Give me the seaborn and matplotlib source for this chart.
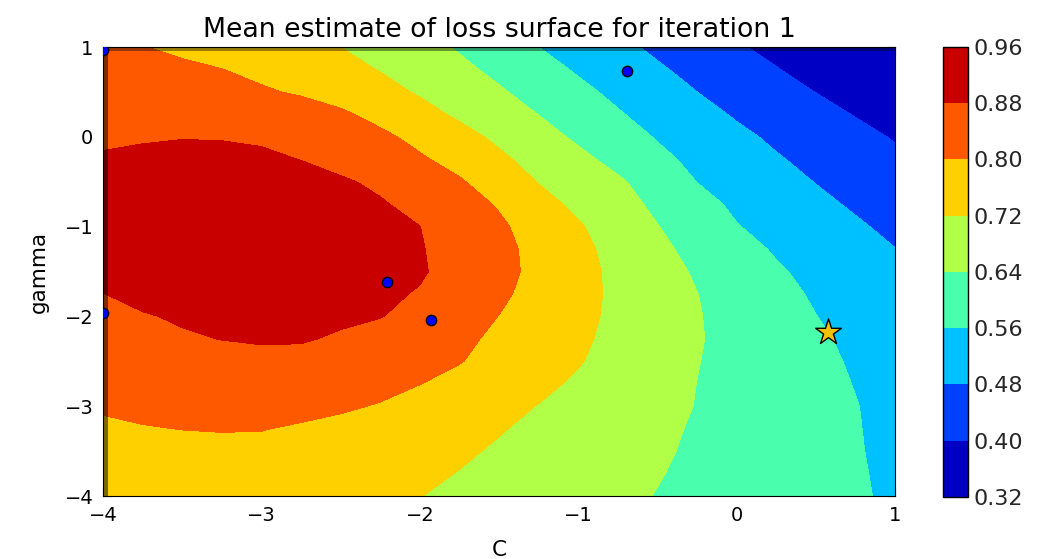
import numpy as np
import matplotlib
matplotlib.use("Agg")
import matplotlib.pyplot as plt
import seaborn as sns

# ---- data ----
C_values = [-4.0, -3.75, -3.5, -3.25, -3.0, -2.75, -2.5, -2.25, -2.0, -1.75, -1.5,
            -1.25, -1.0, -0.75, -0.5, -0.25, 0.0, 0.25, 0.5, 0.75, 1.0]
gamma_values = [1.0, 0.75, 0.5, 0.25, 0.0, -0.25, -0.5, -0.75, -1.0, -1.25, -1.5,
                -1.75, -2.0, -2.25, -2.5, -2.75, -3.0, -3.25, -3.5, -3.75, -4.0]

# mean loss estimate, one row per gamma value (C from -4 to 1)
loss_g_p1_00 = [0.820, 0.802, 0.786, 0.769, 0.753, 0.736, 0.720, 0.691, 0.663, 0.633, 0.596, 0.560, 0.529, 0.498, 0.466, 0.436, 0.405, 0.387, 0.371, 0.356, 0.340]
loss_g_p0_75 = [0.835, 0.824, 0.813, 0.801, 0.783, 0.762, 0.740, 0.717, 0.687, 0.656, 0.623, 0.587, 0.552, 0.521, 0.489, 0.459, 0.431, 0.402, 0.384, 0.366, 0.349]
loss_g_p0_50 = [0.850, 0.841, 0.831, 0.820, 0.808, 0.792, 0.768, 0.742, 0.713, 0.681, 0.648, 0.613, 0.577, 0.544, 0.512, 0.480, 0.453, 0.426, 0.399, 0.380, 0.360]
loss_g_p0_25 = [0.861, 0.863, 0.864, 0.859, 0.850, 0.834, 0.812, 0.778, 0.743, 0.709, 0.674, 0.639, 0.602, 0.566, 0.534, 0.503, 0.473, 0.448, 0.422, 0.397, 0.380]
loss_g_0_00 = [0.872, 0.875, 0.878, 0.877, 0.873, 0.862, 0.843, 0.815, 0.780, 0.743, 0.706, 0.667, 0.628, 0.591, 0.555, 0.525, 0.495, 0.468, 0.443, 0.419, 0.395]
loss_g_m0_25 = [0.885, 0.891, 0.895, 0.894, 0.889, 0.879, 0.858, 0.833, 0.809, 0.775, 0.733, 0.695, 0.658, 0.618, 0.577, 0.543, 0.514, 0.486, 0.461, 0.437, 0.413]
loss_g_m0_50 = [0.900, 0.905, 0.910, 0.910, 0.905, 0.898, 0.888, 0.868, 0.838, 0.807, 0.764, 0.717, 0.683, 0.650, 0.606, 0.559, 0.532, 0.505, 0.478, 0.454, 0.430]
loss_g_m0_75 = [0.913, 0.920, 0.925, 0.925, 0.920, 0.912, 0.900, 0.886, 0.861, 0.828, 0.794, 0.747, 0.703, 0.666, 0.626, 0.583, 0.548, 0.522, 0.496, 0.471, 0.447]
loss_g_m1_00 = [0.920, 0.928, 0.933, 0.933, 0.930, 0.922, 0.910, 0.896, 0.8805, 0.846, 0.811, 0.770, 0.727, 0.684, 0.642, 0.602, 0.563, 0.538, 0.513, 0.489, 0.464]
loss_g_m1_25 = [0.915, 0.925, 0.932, 0.933, 0.930, 0.923, 0.912, 0.898, 0.884, 0.854, 0.819, 0.780, 0.738, 0.697, 0.656, 0.619, 0.584, 0.553, 0.529, 0.505, 0.481]
loss_g_m1_50 = [0.905, 0.915, 0.923, 0.926, 0.924, 0.918, 0.908, 0.896, 0.886, 0.858, 0.821, 0.782, 0.742, 0.704, 0.668, 0.632, 0.600, 0.568, 0.542, 0.518, 0.494]
loss_g_m1_75 = [0.879, 0.895, 0.905, 0.910, 0.910, 0.905, 0.898, 0.890, 0.876, 0.844, 0.812, 0.777, 0.741, 0.707, 0.673, 0.641, 0.610, 0.580, 0.552, 0.528, 0.504]
loss_g_m2_00 = [0.865, 0.876, 0.886, 0.893, 0.896, 0.894, 0.890, 0.8825, 0.857, 0.828, 0.799, 0.768, 0.737, 0.706, 0.675, 0.644, 0.616, 0.589, 0.561, 0.537, 0.513]
loss_g_m2_25 = [0.850, 0.862, 0.874, 0.881, 0.885, 0.885, 0.873, 0.853, 0.832, 0.812, 0.789, 0.760, 0.731, 0.703, 0.674, 0.645, 0.619, 0.595, 0.570, 0.546, 0.522]
loss_g_m2_50 = [0.835, 0.844, 0.857, 0.863, 0.866, 0.862, 0.854, 0.843, 0.824, 0.803, 0.777, 0.751, 0.724, 0.697, 0.670, 0.642, 0.620, 0.597, 0.575, 0.553, 0.530]
loss_g_m2_75 = [0.821, 0.829, 0.839, 0.843, 0.844, 0.839, 0.832, 0.822, 0.801, 0.781, 0.758, 0.734, 0.711, 0.687, 0.664, 0.6395, 0.619, 0.599, 0.578, 0.558, 0.536]
loss_g_m3_00 = [0.806, 0.813, 0.820, 0.823, 0.823, 0.816, 0.810, 0.795, 0.776, 0.757, 0.738, 0.718, 0.698, 0.678, 0.658, 0.638, 0.619, 0.600, 0.581, 0.562, 0.542]
loss_g_m3_25 = [0.791, 0.797, 0.801, 0.803, 0.802, 0.794, 0.780, 0.766, 0.752, 0.738, 0.724, 0.707, 0.689, 0.671, 0.652, 0.634, 0.616, 0.599, 0.581, 0.563, 0.545]
loss_g_m3_50 = [0.773, 0.779, 0.783, 0.785, 0.784, 0.779, 0.772, 0.758, 0.743, 0.729, 0.713, 0.697, 0.681, 0.664, 0.648, 0.631, 0.615, 0.598, 0.581, 0.564, 0.547]
loss_g_m3_75 = [0.759, 0.766, 0.770, 0.771, 0.770, 0.766, 0.759, 0.746, 0.732, 0.718, 0.703, 0.688, 0.673, 0.658, 0.643, 0.628, 0.612, 0.596, 0.581, 0.565, 0.550]
loss_g_m4_00 = [0.745, 0.752, 0.756, 0.757, 0.756, 0.752, 0.745, 0.733, 0.721, 0.708, 0.694, 0.680, 0.666, 0.652, 0.638, 0.624, 0.610, 0.595, 0.581, 0.566, 0.552]

levels = [0.32, 0.40, 0.48, 0.56, 0.64, 0.72, 0.80, 0.88, 0.96]

sample_C = [-4.0, -0.69, -2.21, -1.93, -4.0]
sample_gamma = [0.97, 0.73, -1.62, -2.04, -1.96]

best_C = [0.58]
best_gamma = [-2.17]

x_ticks = [-4, -3, -2, -1, 0, 1]
y_ticks = [-4, -3, -2, -1, 0, 1]

# ---- style ----
sns.set_style("white", rc={
    "xtick.direction": "in", "ytick.direction": "in",
    "xtick.top": True, "ytick.right": True,
    "xtick.bottom": True, "ytick.left": True,
    "axes.edgecolor": "black", "axes.linewidth": 1.0,
    "text.color": "black", "axes.labelcolor": "black",
})
plt.rcParams["font.family"] = ["DejaVu Sans"]

Z = np.array([loss_g_p1_00, loss_g_p0_75, loss_g_p0_50, loss_g_p0_25, loss_g_0_00,
              loss_g_m0_25, loss_g_m0_50, loss_g_m0_75, loss_g_m1_00, loss_g_m1_25,
              loss_g_m1_50, loss_g_m1_75, loss_g_m2_00, loss_g_m2_25, loss_g_m2_50,
              loss_g_m2_75, loss_g_m3_00, loss_g_m3_25, loss_g_m3_50, loss_g_m3_75,
              loss_g_m4_00])

fig = plt.figure(figsize=(10.44, 5.59), dpi=100)
ax = fig.add_axes([0.0987, 0.1127, 0.7586, 0.8032])
cax = fig.add_axes([0.9033, 0.111, 0.024, 0.805])

cs = ax.contourf(C_values, gamma_values, Z, levels=levels, cmap="jet")

# darkened rim along the left and top edges of the plot area (as in the reference)
ax.axvspan(-4.0, -3.97, color="black", alpha=0.5, lw=0, zorder=2)
ax.axhspan(0.955, 1.0, color="black", alpha=0.4, lw=0, zorder=2)

sns.scatterplot(x=sample_C, y=sample_gamma, ax=ax, color="blue",
                edgecolor="black", linewidth=1.0, s=55, zorder=3, legend=False)
sns.scatterplot(x=best_C, y=best_gamma, ax=ax, marker="*", color="#F2C200",
                edgecolor="black", linewidth=1.0, s=380, zorder=4, legend=False)

ax.set_xlim(-4, 1)
ax.set_ylim(-4, 1)
ax.set_xticks(x_ticks)
ax.set_yticks(y_ticks)
ax.tick_params(length=6, width=0.8, labelsize=14, colors="black", pad=7)
ax.set_xlabel("C", fontsize=15.5, labelpad=11)
ax.set_ylabel("gamma", fontsize=15.5, labelpad=11)
ax.set_title("Mean estimate of loss surface for iteration 1", fontsize=19.3, pad=7)

cb = fig.colorbar(cs, cax=cax, ticks=levels)
cb.ax.set_yticklabels([f"{v:.2f}" for v in levels])
cb.ax.tick_params(direction="in", length=5, width=0.8, labelsize=16, pad=4)
cb.outline.set_linewidth(1.0)

fig.savefig("out.png", dpi=100)
